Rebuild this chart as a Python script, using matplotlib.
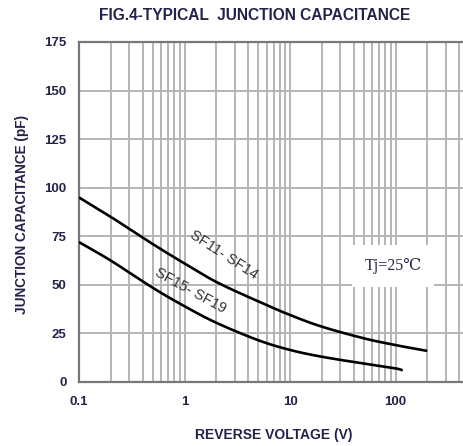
import matplotlib
matplotlib.use("Agg")
import matplotlib.pyplot as plt
import numpy as np

# reverse voltage (V) and junction capacitance (pF)
v_sf11 = [0.1, 0.2, 0.5, 1, 2, 5, 10, 20, 50, 100, 200]
c_sf11 = [95, 85, 71, 61, 51.5, 41.5, 34.5, 28.5, 22.5, 19, 16]
v_sf15 = [0.1, 0.2, 0.5, 1, 2, 5, 10, 20, 50, 100, 117]
c_sf15 = [72, 62.5, 48.5, 39, 30.5, 21.5, 16.5, 13, 9.5, 7, 6]

xticks = [0.1, 1, 10, 100]
xticklabels = ["0.1", "1", "10", "100"]
yticks = [0, 25, 50, 75, 100, 125, 150, 175]

W, H = 463, 446
fig = plt.figure(figsize=(W / 100, H / 100), dpi=100)
# axes run to 1000 V, cut by the right edge of the picture
ax = fig.add_axes([79 / W, 1 - 382 / H, 422 / W, 340 / H])

txt_color = "#23234a"


def smooth(v, c, n=30):
    # catmull-rom through the read points, in log-x space
    p = np.column_stack([np.log10(v), c])
    p = np.vstack([2 * p[0] - p[1], p, 2 * p[-1] - p[-2]])
    out = []
    t = np.linspace(0, 1, n, endpoint=False)[:, None]
    for i in range(1, len(p) - 2):
        p0, p1, p2, p3 = p[i - 1], p[i], p[i + 1], p[i + 2]
        seg = 0.5 * (2 * p1 + (-p0 + p2) * t + (2 * p0 - 5 * p1 + 4 * p2 - p3) * t ** 2
                     + (-p0 + 3 * p1 - 3 * p2 + p3) * t ** 3)
        out.append(seg)
    out.append(p[-2][None, :])
    out = np.vstack(out)
    return 10 ** out[:, 0], out[:, 1]


xs, ys = smooth(v_sf11, c_sf11)
ax.plot(xs, ys, color="black", lw=1.9, solid_capstyle="butt", zorder=3)
xs, ys = smooth(v_sf15, c_sf15)
ax.plot(xs, ys, color="black", lw=1.9, solid_capstyle="butt", zorder=3)

ax.set_xscale("log")
ax.set_xlim(0.1, 1000)
ax.set_ylim(0, 175)
ax.set_xticks(xticks)
ax.set_xticklabels(xticklabels)
ax.set_yticks(yticks)
ax.grid(True, which="both", color="#b4b4b4", lw=1.4)
ax.set_axisbelow(True)
ax.tick_params(which="both", length=0, labelsize=9.5, labelcolor=txt_color)
ax.tick_params(axis="y", pad=9)
ax.tick_params(axis="x", pad=10)
for lab in ax.get_xticklabels() + ax.get_yticklabels():
    lab.set_fontweight("bold")
    lab.set_family("Liberation Sans")
for s in ax.spines.values():
    s.set_color("#777777")
    s.set_linewidth(1.6)

fig.text(255 / W, 1 - 15 / H, "FIG.4-TYPICAL  JUNCTION CAPACITANCE", ha="center",
         va="center", fontsize=11.2, fontweight="bold", family="Liberation Sans",
         color=txt_color)
fig.text(274 / W, 1 - 435 / H, "REVERSE VOLTAGE (V)", ha="center", va="center",
         fontsize=10, fontweight="bold", family="Liberation Sans", color=txt_color)
fig.text(22 / W, 1 - 215 / H, "JUNCTION CAPACITANCE (pF)", ha="center", va="center",
         rotation=90, fontsize=9.8, fontweight="bold", family="Liberation Sans",
         color=txt_color)

fig.text(224 / W, 1 - 255 / H, "SF11- SF14", ha="center", va="center", rotation=-33,
         fontsize=10.5, family="Liberation Sans", color="#333333")
fig.text(190 / W, 1 - 291 / H, "SF15- SF19", ha="center", va="center", rotation=-29,
         fontsize=10.5, family="Liberation Sans", color="#333333")
fig.text(393 / W, 1 - 266 / H, "Tj=25\u2103", ha="center", va="center", fontsize=11.5,
         color=txt_color, family=["Liberation Serif", "DejaVu Serif"],
         bbox=dict(boxstyle="square,pad=0.8", fc="white", ec="none"))

fig.savefig("out.png", dpi=100)
